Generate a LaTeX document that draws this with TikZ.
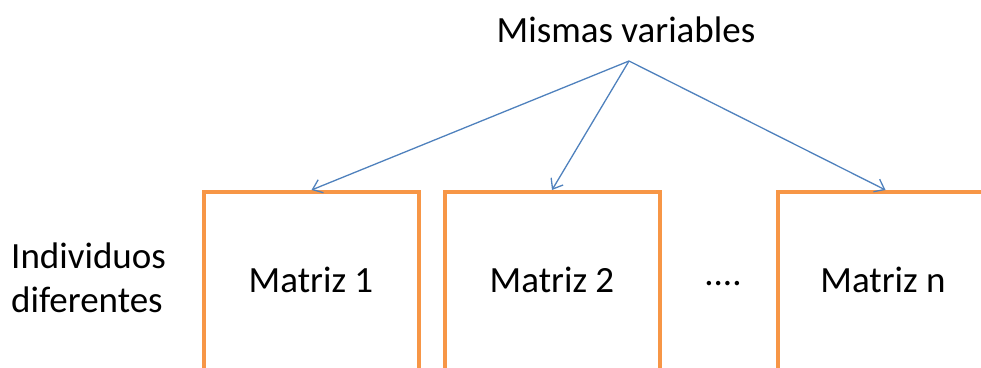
\documentclass[tikz,border=0pt]{standalone}
\usepackage{fontspec}
\setmainfont{Carlito}
\usetikzlibrary{arrows.meta}
\definecolor{boxorange}{RGB}{247,150,70}
\definecolor{arrowblue}{RGB}{79,129,189}
\begin{document}
\begin{tikzpicture}[x=1pt,y=-1pt,
  matbox/.style={draw=boxorange,line width=4pt,minimum width=215pt,minimum height=240pt,inner sep=0pt},
  lbl/.style={font=\fontsize{37}{44}\selectfont,inner sep=0pt},
  conn/.style={draw=arrowblue,line width=1.3pt,-{Straight Barb[length=9pt,width=14pt,line width=1.3pt]}}]
\useasboundingbox (0,0) rectangle (981,367);
\clip (0,0) rectangle (981,367);
% boxes (open at the bottom of the picture)
\node[matbox] (b1) at (311.5,312) {};
\node[matbox] (b2) at (552,312) {};
\node[matbox] (bn) at (885.5,312) {};
% texts
\node[lbl,anchor=base] (title) at (626,42) {Mismas variables};
\coordinate (apex) at (629,61);
\node[lbl,anchor=base] (t1) at (311,292) {Matriz 1};
\node[lbl,anchor=base] (t2) at (552,292) {Matriz 2};
\node[lbl,anchor=base] (dots) at (723,285) {....};
\node[lbl,anchor=base] (tn) at (883,292) {Matriz n};
\node[lbl,anchor=base west] (ind1) at (11,268) {Individuos};
\node[lbl,anchor=base west] (ind2) at (11,312) {diferentes};
% connectors
\draw[conn] (apex) -- (b1.north);
\draw[conn] (apex) -- (b2.north);
\draw[conn] (apex) -- (bn.north);
\end{tikzpicture}
\end{document}
